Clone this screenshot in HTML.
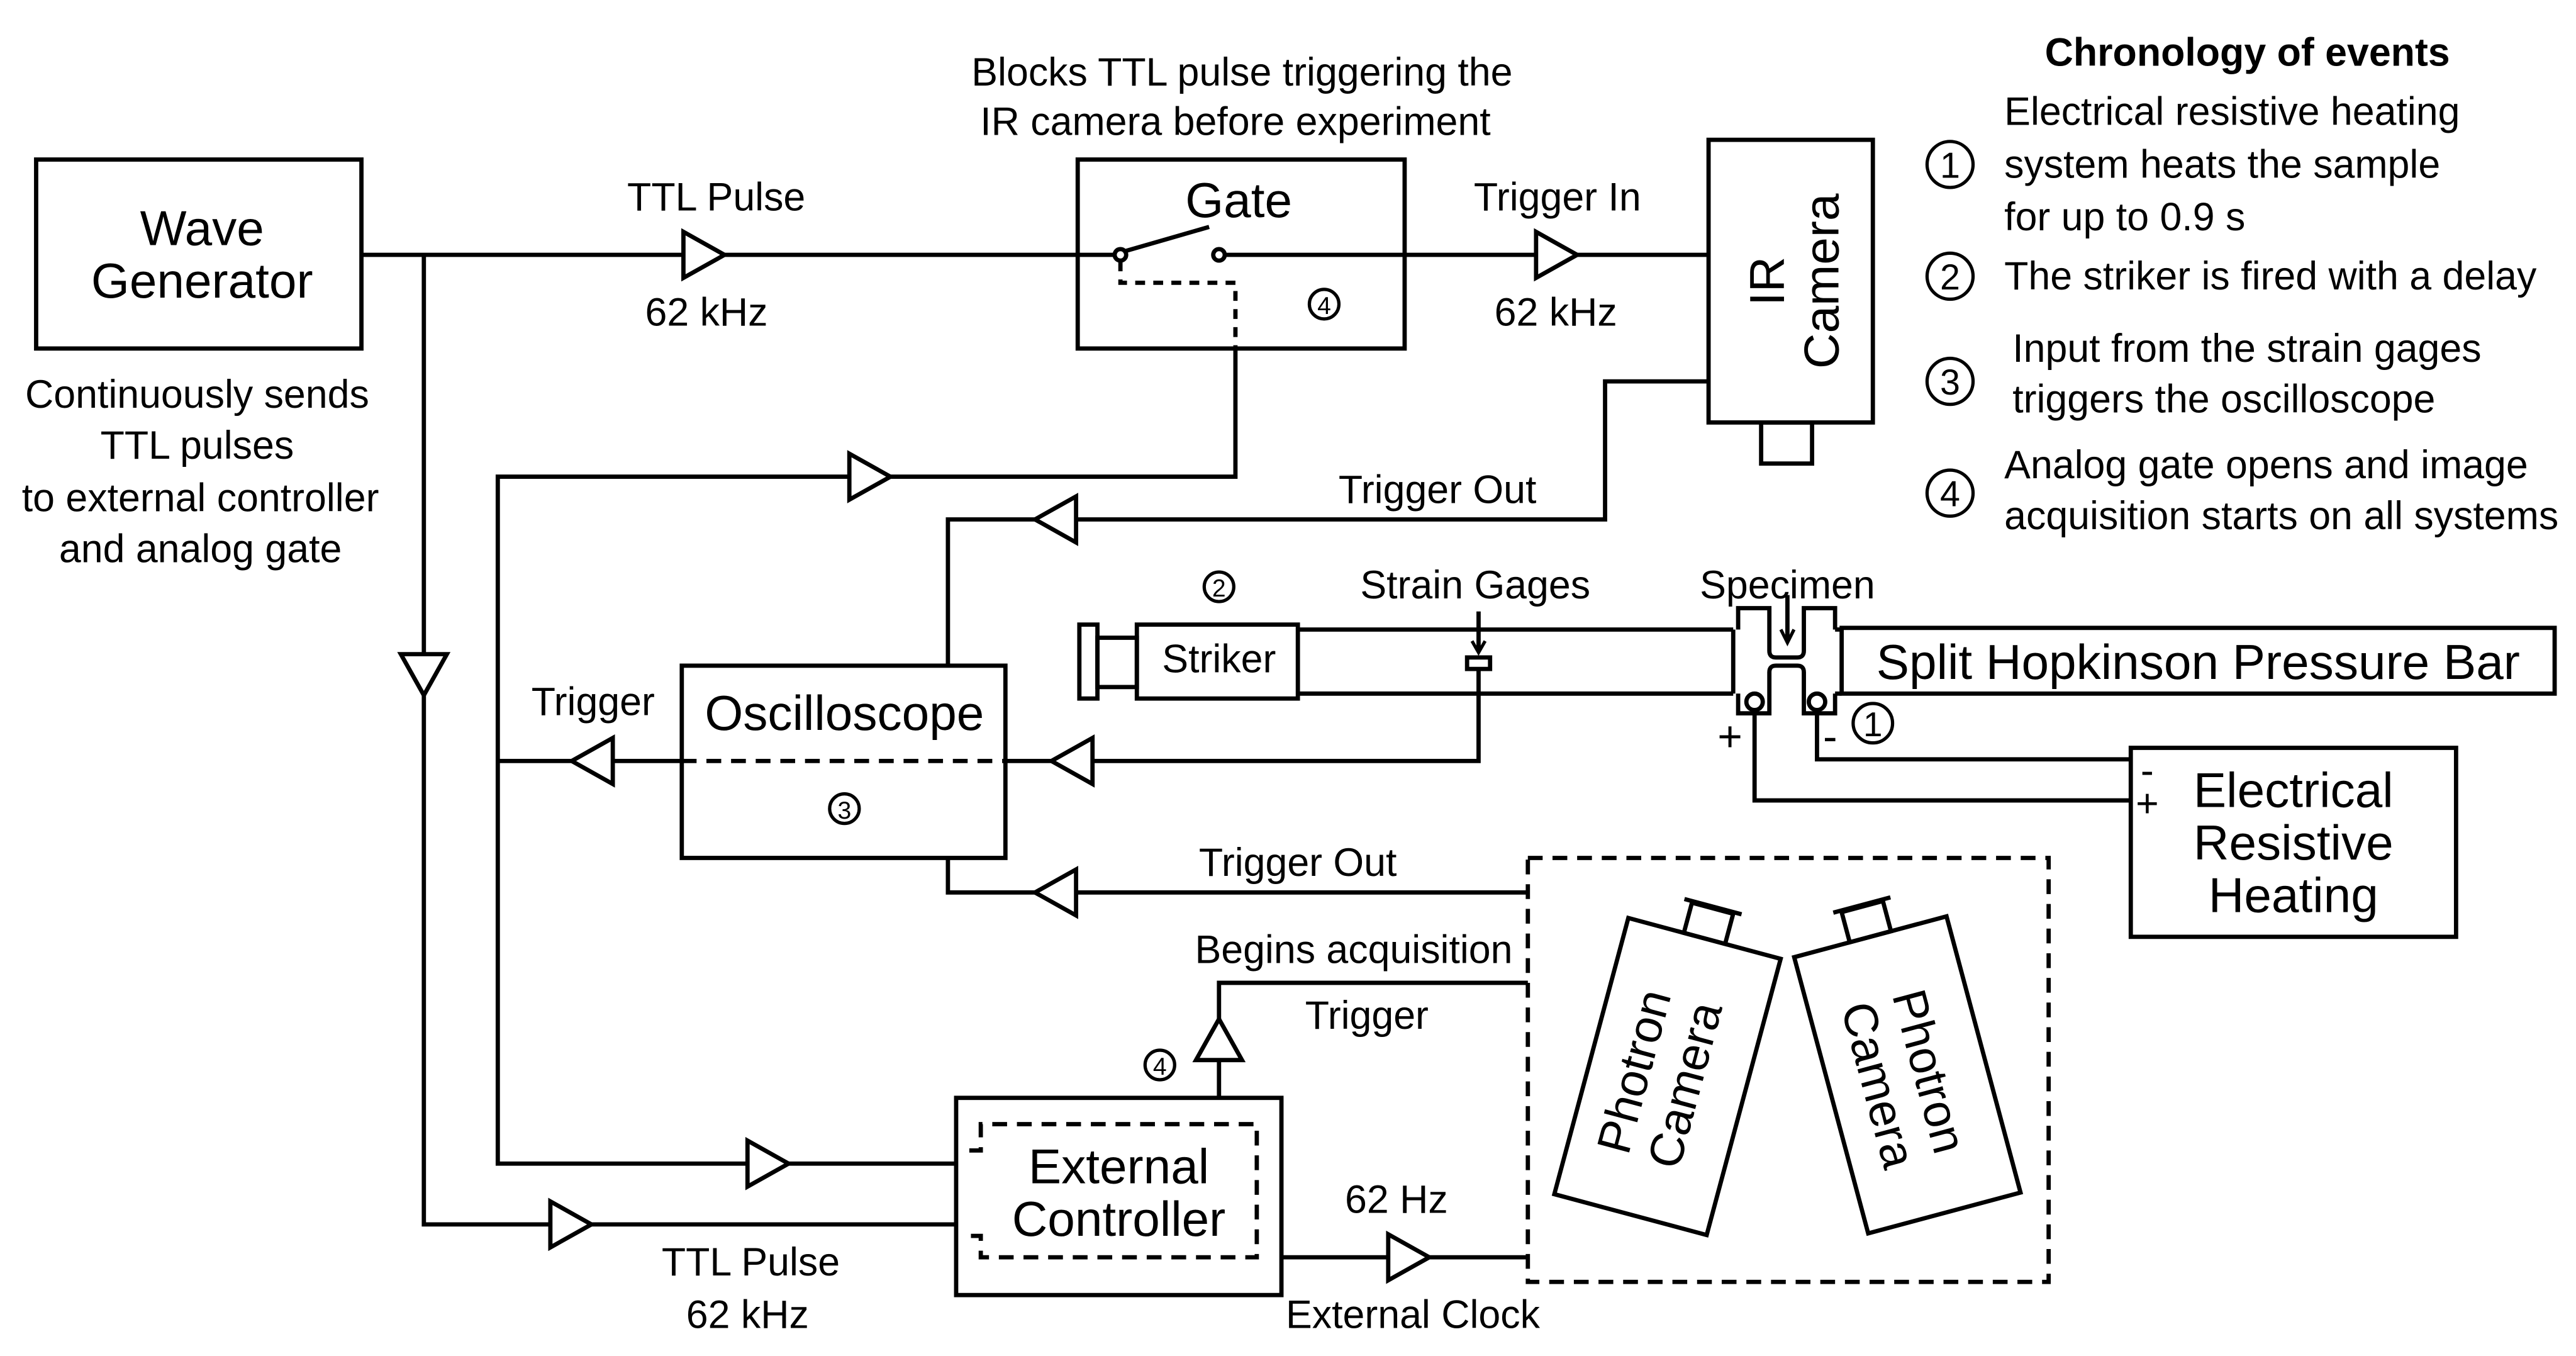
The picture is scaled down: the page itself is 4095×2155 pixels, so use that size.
<!DOCTYPE html>
<html><head><meta charset="utf-8"><style>
html,body{margin:0;padding:0;background:#fff}
svg{display:block}
text{font-family:"Liberation Sans",Arial,sans-serif;fill:#000}
</style></head><body>
<svg width="4095" height="2155" viewBox="0 0 1568 825" xmlns="http://www.w3.org/2000/svg">
<g fill="none" stroke="#000" stroke-width="2.6">
<rect x="22" y="97" width="198" height="115"/>
<rect x="656" y="97" width="199" height="115"/>
<rect x="1040" y="85" width="100" height="172"/>
<rect x="1072" y="257" width="31" height="25"/>
<rect x="415" y="405" width="197" height="117"/>
<rect x="582" y="668" width="198" height="120"/>
<rect x="1297" y="455" width="198" height="115"/>
<rect x="930" y="522" width="317" height="258" stroke-dasharray="9,6"/>
<line x1="415" y1="463" x2="612" y2="463" stroke-dasharray="9,6"/>
<polyline points="590,700 597,700 597,684 765,684 765,765 597,765 597,752 590,752" stroke-dasharray="9,6"/>
<polyline points="220,155 682,155"/>
<polyline points="258,155 258,745 582,745"/>
<circle cx="682" cy="155" r="3.5" fill="#fff"/>
<circle cx="742" cy="155" r="3.5" fill="#fff"/>
<line x1="684" y1="153" x2="736" y2="138"/>
<polyline points="746,155 1040,155"/>
<polyline points="682,159 682,172 752,172 752,212" stroke-dasharray="6,5"/>
<polyline points="752,212 752,290 303,290 303,708 582,708"/>
<polyline points="1040,232 977,232 977,316 577,316 577,405"/>
<polyline points="415,463 303,463"/>
<polyline points="612,463 900,463 900,407"/>
<polyline points="577,522 577,543 930,543"/>
<polyline points="930,598 742,598 742,668"/>
<polyline points="780,765 930,765"/>
<rect x="657" y="380" width="11" height="45"/>
<rect x="668" y="388" width="24" height="30"/>
<rect x="692" y="380" width="98" height="45"/>
<line x1="790" y1="383" x2="1055" y2="383"/>
<line x1="790" y1="422" x2="1055" y2="422"/>
<line x1="1055" y1="383" x2="1055" y2="422"/>
<rect x="893" y="400" width="14" height="7"/>
<line x1="900" y1="372" x2="900" y2="396"/>
<polyline points="896,390 900,397 904,390" stroke-width="2"/>
<rect x="1121" y="382" width="434" height="40"/>
<path d="M1058,383 V370 H1077 V396 Q1077,400 1081,400 H1094 Q1098,400 1098,396 V370 H1117 V383"/>
<path d="M1058,422 V434 H1077 V409 Q1077,405 1081,405 H1094 Q1098,405 1098,409 V434 H1117 V422"/>
<line x1="1117" y1="383" x2="1121" y2="383"/>
<line x1="1117" y1="422" x2="1121" y2="422"/>
<line x1="1088" y1="362" x2="1088" y2="390"/>
<polyline points="1084,383 1088,391 1092,383" stroke-width="2"/>
<circle cx="1068" cy="427" r="5"/>
<circle cx="1106" cy="427" r="5"/>
<polyline points="1068,432 1068,487 1298,487"/>
<polyline points="1106,432 1106,462 1298,462"/>
<g fill="#fff">
<polygon points="416,141 416,169 441,155"/>
<polygon points="935,141 935,169 960,155"/>
<polygon points="517,276 517,304 542,290"/>
<polygon points="655,302 655,330 630,316"/>
<polygon points="373,449 373,477 348,463"/>
<polygon points="665,449 665,477 640,463"/>
<polygon points="655,529 655,557 630,543"/>
<polygon points="728,645 756,645 742,620"/>
<polygon points="455,694 455,722 480,708"/>
<polygon points="335,731 335,759 360,745"/>
<polygon points="845,751 845,779 870,765"/>
<polygon points="244,398 272,398 258,423"/>
</g>
<circle cx="806" cy="185" r="9" stroke-width="2"/>
<circle cx="742" cy="357" r="9" stroke-width="2"/>
<circle cx="514" cy="492" r="9" stroke-width="2"/>
<circle cx="706" cy="648" r="9" stroke-width="2"/>
<circle cx="1140" cy="440" r="12" stroke-width="2"/>
<circle cx="1187" cy="100" r="14" stroke-width="2"/>
<circle cx="1187" cy="168" r="14" stroke-width="2"/>
<circle cx="1187" cy="232" r="14" stroke-width="2"/>
<circle cx="1187" cy="300" r="14" stroke-width="2"/>
<g transform="translate(1015,655) rotate(15)">
<rect x="-48" y="-87" width="96" height="174"/>
<rect x="-13" y="-106" width="26" height="19"/>
<line x1="-18" y1="-107" x2="18" y2="-107"/>
</g>
<g transform="translate(1161,654) rotate(-15)">
<rect x="-48" y="-87" width="96" height="174"/>
<rect x="-13" y="-106" width="26" height="19"/>
<line x1="-18" y1="-107" x2="18" y2="-107"/>
</g>
</g>
<g font-size="24" text-anchor="middle">
<text x="123" y="149" font-size="30">Wave</text>
<text x="123" y="181" font-size="30">Generator</text>
<text x="120" y="248">Continuously sends</text>
<text x="120" y="279">TTL pulses</text>
<text x="122" y="311">to external controller</text>
<text x="122" y="342">and analog gate</text>
<text x="436" y="128">TTL Pulse</text>
<text x="430" y="198">62 kHz</text>
<text x="756" y="52">Blocks TTL pulse triggering the</text>
<text x="752" y="82">IR camera before experiment</text>
<text x="754" y="132" font-size="30">Gate</text>
<text x="948" y="128">Trigger In</text>
<text x="947" y="198">62 kHz</text>
<text x="875" y="306">Trigger Out</text>
<text x="361" y="435">Trigger</text>
<text x="514" y="444" font-size="30">Oscilloscope</text>
<text x="790" y="533">Trigger Out</text>
<text x="824" y="586">Begins acquisition</text>
<text x="832" y="626">Trigger</text>
<text x="681" y="720" font-size="30">External</text>
<text x="681" y="752" font-size="30">Controller</text>
<text x="850" y="738">62 Hz</text>
<text x="860" y="808">External Clock</text>
<text x="457" y="776">TTL Pulse</text>
<text x="455" y="808">62 kHz</text>
<text x="742" y="409">Striker</text>
<text x="898" y="364">Strain Gages</text>
<text x="1088" y="364">Specimen</text>
<text x="1338" y="413" font-size="30">Split Hopkinson Pressure Bar</text>
<text x="1053" y="457" font-size="26">+</text>
<text x="1114" y="457" font-size="26">-</text>
<text x="1396" y="491" font-size="30">Electrical</text>
<text x="1396" y="523" font-size="30">Resistive</text>
<text x="1396" y="555" font-size="30">Heating</text>
<text x="1307" y="477" font-size="24">-</text>
<text x="1307" y="497" font-size="24">+</text>
<text x="806" y="191" font-size="15">4</text>
<text x="742" y="363" font-size="15">2</text>
<text x="514" y="498" font-size="15">3</text>
<text x="706" y="654" font-size="15">4</text>
<text x="1140" y="448" font-size="21">1</text>
<text x="1187" y="108" font-size="22">1</text>
<text x="1187" y="176" font-size="22">2</text>
<text x="1187" y="240" font-size="22">3</text>
<text x="1187" y="308" font-size="22">4</text>
<text x="1368" y="40" font-weight="bold">Chronology of events</text>
<g transform="translate(1090,171) rotate(-90)"><text x="0" y="-4" font-size="30">IR</text><text x="0" y="29" font-size="30">Camera</text></g>
<g transform="translate(1010,656) rotate(-75)"><text x="0" y="-6" font-size="29">Photron</text><text x="0" y="26" font-size="29">Camera</text></g>
<g transform="translate(1159,656) rotate(75)"><text x="0" y="-6" font-size="29">Photron</text><text x="0" y="26" font-size="29">Camera</text></g>
</g>
<g font-size="24">
<text x="1220" y="76">Electrical resistive heating</text>
<text x="1220" y="108">system heats the sample</text>
<text x="1220" y="140">for up to 0.9 s</text>
<text x="1220" y="176">The striker is fired with a delay</text>
<text x="1225" y="220">Input from the strain gages</text>
<text x="1225" y="251">triggers the oscilloscope</text>
<text x="1220" y="291">Analog gate opens and image</text>
<text x="1220" y="322">acquisition starts on all systems</text>
</g>
</svg>
</body></html>
